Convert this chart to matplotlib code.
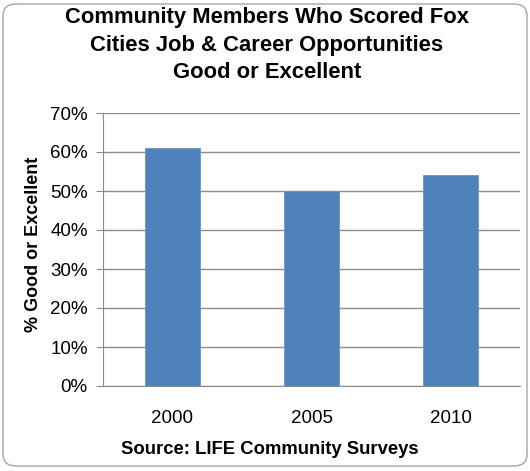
import matplotlib.pyplot as plt
from matplotlib.patches import FancyBboxPatch
from matplotlib.ticker import PercentFormatter

# 数据
years = ['2000', '2005', '2010']
good_or_excellent = [61, 50, 54]

plt.rcParams['font.family'] = ['Liberation Sans', 'DejaVu Sans']

W, H = 530, 471
fig = plt.figure(figsize=(W / 100, H / 100), dpi=100)

# 图表外框
frame = FancyBboxPatch((3 / W, 5 / H), 524 / W, 462 / H,
                       boxstyle='round,pad=0,rounding_size=0.025',
                       transform=fig.transFigure, facecolor='white',
                       edgecolor='#a6a6a6', linewidth=1.0, zorder=-10)
fig.patches.append(frame)

# 坐标区
left, right, top, bottom = 103, 520, 113, 386
ax = fig.add_axes([left / W, 1 - bottom / H, (right - left) / W, (bottom - top) / H])
ax.bar(years, good_or_excellent, width=0.4, color='#4f81bd', edgecolor='#6a96cc',
       linewidth=0.6, zorder=3)

ax.set_ylim(0, 70)
ax.set_xlim(-0.5, 2.5)
ax.set_yticks(range(0, 71, 10))
ax.yaxis.set_major_formatter(PercentFormatter(decimals=0))
ax.grid(axis='y', color='#8c8c8c', linewidth=1.0, zorder=0)
ax.set_axisbelow(True)

for s in ['top', 'right']:
    ax.spines[s].set_visible(False)
ax.spines['left'].set_color('#8c8c8c')
ax.spines['bottom'].set_color('#8c8c8c')
ax.tick_params(axis='y', length=5, color='#8c8c8c', labelsize=13.5, pad=6)
ax.tick_params(axis='x', length=0, labelsize=13.5, pad=17)

ax.set_ylabel('% Good or Excellent', fontsize=13, fontweight='bold')
ax.yaxis.set_label_coords(-0.146, 0.52)

fig.text(267 / W, 1 - 45 / H,
         'Community Members Who Scored Fox\nCities Job & Career Opportunities\nGood or Excellent',
         ha='center', va='center', fontsize=15.8, fontweight='bold', linespacing=1.4)

fig.text(270 / W, 1 - 450 / H, 'Source: LIFE Community Surveys',
         ha='center', va='center', fontsize=13.3, fontweight='bold')

fig.savefig('out.png', dpi=100)
